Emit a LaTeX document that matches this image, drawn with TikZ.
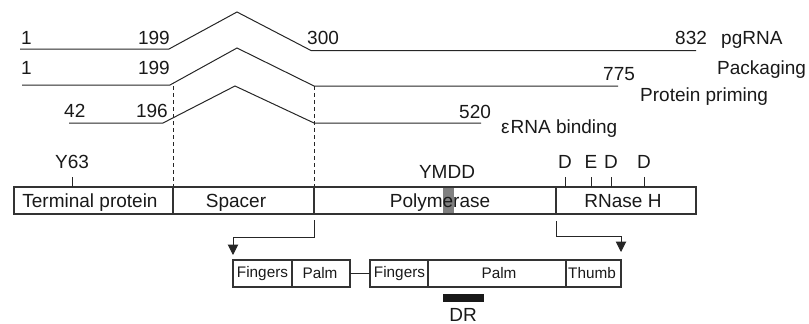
\documentclass[tikz,border=0pt]{standalone}
\usepackage{fontspec}
\setmainfont{Liberation Sans}
\usetikzlibrary{arrows.meta}
\begin{document}
\begin{tikzpicture}[x=1pt,y=-1pt,
  lbl/.style={font=\fontsize{19}{22}\selectfont, inner sep=0pt, text=black!90},
  sml/.style={font=\fontsize{15.3}{18}\selectfont, inner sep=0pt, text=black!90},
  ln/.style={line width=1pt, draw=black!85},
  dsh/.style={line width=0.9pt, draw=black!85, dash pattern=on 4pt off 3pt},
  bx/.style={line width=1.1pt, draw=black!80},
  arr/.style={ln, -{Triangle[length=10.5pt,width=10.5pt]}}]
\useasboundingbox (0,0) rectangle (809,324);
% isoform lines
\coordinate (p1) at (20,49);  \coordinate (p2) at (169,49);  \coordinate (p3) at (237,12);  \coordinate (p4) at (311,50.5); \coordinate (p5) at (696,50.5);
\coordinate (q1) at (22,85);  \coordinate (q2) at (170,85);  \coordinate (q3) at (237,48);  \coordinate (q4) at (314,86);   \coordinate (q5) at (618,86);
\coordinate (r1) at (69,123); \coordinate (r2) at (163,123); \coordinate (r3) at (235,86);  \coordinate (r4) at (314,123);  \coordinate (r5) at (481,123);
\draw[ln] (p1) -- (p2) -- (p3) -- (p4) -- (p5);
\draw[ln] (q1) -- (q2) -- (q3) -- (q4) -- (q5);
\draw[ln] (r1) -- (r2) -- (r3) -- (r4) -- (r5);
% labels of lines
\node[lbl, anchor=base west] (l1a) at (21,44) {1};
\node[lbl, anchor=base east] (l1b) at (170,44) {199};
\node[lbl, anchor=base west] (l1c) at (307,44) {300};
\node[lbl, anchor=base west] (l1d) at (675,44) {832};
\node[lbl, anchor=base west] (l1e) at (721,44) {pgRNA};
\node[lbl, anchor=base west] (l1f) at (717,74) {Packaging};
\node[lbl, anchor=base west] (l2a) at (21,74) {1};
\node[lbl, anchor=base east] (l2b) at (170,74) {199};
\node[lbl, anchor=base west] (l2c) at (603,80) {775};
\node[lbl, anchor=base west] (l2d) at (640,101) {Protein priming};
\node[lbl, anchor=base west] (l3a) at (64,117) {42};
\node[lbl, anchor=base east] (l3b) at (168,117) {196};
\node[lbl, anchor=base west] (l3c) at (459,118) {520};
\node[lbl, anchor=base west] (l3d) at (501,133) {ε\hspace{1pt}RNA binding};
% dashed guides
\coordinate (d1t) at (173,86); \coordinate (d1b) at (173,187);
\coordinate (d2t) at (314,86); \coordinate (d2b) at (314,187);
\draw[dsh] (d1t) -- (d1b);
\draw[dsh] (d2t) -- (d2b);
% main domain bar
\fill[black!50] (443,187) rectangle (454,214);
\draw[bx] (14,187) rectangle (696,214);
\draw[bx] (173,187) -- (173,214) (314,187) -- (314,214) (556,187) -- (556,214);
\node[lbl, anchor=base] (tp) at (90,207) {Terminal protein};
\node[lbl, anchor=base] (sp) at (236,207) {Spacer};
\node[lbl, anchor=base] (pol) at (440,207) {Polymerase};
\node[lbl, anchor=base] (rh) at (623,207) {RNase H};
% residues
\draw[ln] (72,177) -- (72,187);
\node[lbl, anchor=base] (y63) at (72,168) {Y63};
\node[lbl, anchor=base] (ymdd) at (447,178) {YMDD};
\draw[ln] (565,177) -- (565,187) (591,177) -- (591,187) (611,177) -- (611,187) (644,177) -- (644,187);
\node[lbl, anchor=base] (rd1) at (565,168) {D};
\node[lbl, anchor=base] (re1) at (591,168) {E};
\node[lbl, anchor=base] (rd2) at (611,168) {D};
\node[lbl, anchor=base] (rd3) at (644,168) {D};
% brackets
\coordinate (b1s) at (314,220); \coordinate (b1e) at (233,255);
\coordinate (b2s) at (556,221); \coordinate (b2e) at (621,252);
\draw[arr] (b1s) -- (314,237) -| (b1e);
\draw[arr] (b2s) -- (556,236) -| (b2e);
% lower boxes
\draw[bx] (233,260) rectangle (350,287);
\draw[bx] (292,260) -- (292,287);
\draw[bx] (370,260) rectangle (621,287);
\draw[bx] (428,260) -- (428,287) (566,260) -- (566,287);
\coordinate (c1) at (350,273); \coordinate (c2) at (370,273);
\draw[ln] (c1) -- (c2);
\node[sml] (f1) at (262.5,273.5) {Fingers};
\node[sml] (pa1) at (320,273.5) {Palm};
\node[sml] (f2) at (399.5,273.5) {Fingers};
\node[sml] (pa2) at (499,273.5) {Palm};
\node[sml] (th) at (592,273.5) {Thumb};
% DR
\fill[black!90] (443,294) rectangle (484,302);
\node[lbl, anchor=base] (dr) at (463,321) {DR};
\end{tikzpicture}
\end{document}
